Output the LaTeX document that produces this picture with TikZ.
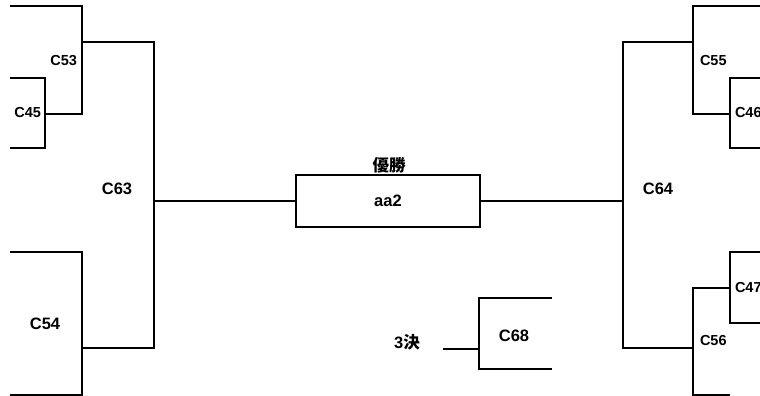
\documentclass[tikz,border=0pt]{standalone}
\usepackage{fontspec}
\setmainfont{Liberation Sans}
\newfontfamily\jpfont{Noto Sans CJK JP}
\usepackage{tikz}

\tikzset{
  big/.style={font=\fontsize{16.5}{17}\selectfont\bfseries,inner sep=0pt},
  small/.style={font=\fontsize{14.5}{15}\selectfont\bfseries,inner sep=0pt}
}

\begin{document}
\begin{tikzpicture}[x=1pt,y=-1pt,line width=2pt]
\useasboundingbox (0,0) rectangle (760,396);
% final
\node[shape=rectangle,draw=black,minimum width=184pt,minimum height=52pt,outer sep=0pt,big] (F) at (388,201) {aa2};
\node[big] (W) at (389,165) {\jpfont\bfseries 優勝};
% left half
\coordinate (E1) at (10,6);
\coordinate (E2) at (10,78);
\coordinate (E3) at (10,148);
\coordinate (E4) at (10,252);
\coordinate (E5) at (10,395);
\coordinate (M45) at (45,114);
\coordinate (M53) at (82,42);
\coordinate (M54) at (82,348);
\coordinate (M63) at (154,201);
\draw (E2) -| (M45) |- (E3);
\draw (E1) -| (M53) |- (M45);
\draw (E4) -| (M54) |- (E5);
\draw (M53) -| (M63) |- (M54);
\draw (M63) -- (F.west);
% right half
\coordinate (E6) at (760,6);
\coordinate (E7) at (760,78);
\coordinate (E8) at (760,148);
\coordinate (E9) at (760,252);
\coordinate (E10) at (760,323);
\coordinate (E11) at (730,395);
\coordinate (M46) at (730,114);
\coordinate (M47) at (730,288);
\coordinate (M55) at (693,42);
\coordinate (M56) at (693,348);
\coordinate (M64) at (623,201);
\draw (E7) -| (M46) |- (E8);
\draw (E6) -| (M55) |- (M46);
\draw (E9) -| (M47) |- (E10);
\draw (M47) -| (M56) |- (E11);
\draw (M55) -| (M64) |- (M56);
\draw (F.east) -- (M64);
% third place
\coordinate (T1) at (552,298);
\coordinate (T2) at (552,369);
\coordinate (M68) at (479,349);
\coordinate (T0) at (443,349);
\draw (T1) -| (M68) |- (T2);
\draw (T0) -- (M68);
% labels
\node[small,anchor=east] (C53) at (78,61) {C53};
\node[small,anchor=east] (C45) at (42,113) {C45};
\node[big] (C54) at (45,324) {C54};
\node[big] (C63) at (117,189) {C63};
\node[big] (C64) at (658,189) {C64};
\node[small,anchor=west] (C55) at (699,61) {C55};
\node[small,anchor=west] (C46) at (734,113) {C46};
\node[small,anchor=west] (C47) at (734,288) {C47};
\node[small,anchor=west] (C56) at (699,341) {C56};
\node[big] (C68) at (514,336) {C68};
\node[big] (T3) at (407,342) {3\jpfont\bfseries 決};
\end{tikzpicture}
\end{document}
